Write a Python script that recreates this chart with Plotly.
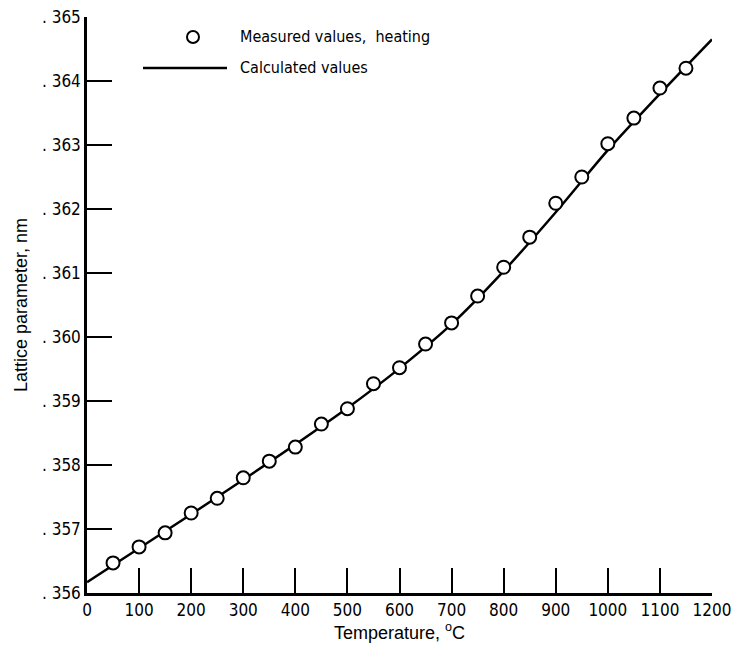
import plotly.graph_objects as go

# Measured values, heating
meas_temp = [50, 100, 150, 200, 250, 300, 350, 400, 450, 500, 550, 600,
             650, 700, 750, 800, 850, 900, 950, 1000, 1050, 1100, 1150]
meas_lat = [0.35647, 0.35672, 0.35694, 0.35725, 0.35748, 0.35780, 0.35806,
            0.35828, 0.35864, 0.35888, 0.35927, 0.35952, 0.35989, 0.36022,
            0.36064, 0.36109, 0.36156, 0.36209, 0.36250, 0.36302, 0.36342,
            0.36389, 0.36420]

# Calculated values
calc_temp = [0, 100, 200, 300, 400, 500, 600, 700, 800, 900, 1000, 1100, 1200]
calc_lat = [0.35617, 0.35670, 0.35723, 0.35777, 0.35832, 0.35889, 0.35951,
            0.36020, 0.36103, 0.36195, 0.36292, 0.36380, 0.36465]

x_ticks = [0, 100, 200, 300, 400, 500, 600, 700, 800, 900, 1000, 1100, 1200]
y_ticks = [0.356, 0.357, 0.358, 0.359, 0.360, 0.361, 0.362, 0.363, 0.364, 0.365]
y_ticktext = [". 356", ". 357", ". 358", ". 359", ". 360", ". 361", ". 362",
              ". 363", ". 364", ". 365"]

legend_labels = ["Measured values,  heating", "Calculated values"]

NARROW = "DejaVu Sans Condensed, Liberation Sans Narrow, Arial Narrow, sans-serif"
REG = "Liberation Sans, Arial, sans-serif"

fig = go.Figure()
fig.add_trace(go.Scatter(
    x=calc_temp, y=calc_lat, mode="lines",
    line=dict(color="black", width=2.5, shape="spline", smoothing=0.8),
    showlegend=False, cliponaxis=False))
fig.add_trace(go.Scatter(
    x=meas_temp, y=meas_lat, mode="markers",
    marker=dict(symbol="circle", size=13, color="white",
                line=dict(color="black", width=2)),
    showlegend=False, cliponaxis=False))

L, R, T, B = 87, 26, 17, 57
W, H = 738, 650
pw, ph = W - L - R, H - T - B

def px(xp):
    return (xp - L) / pw

def py(yp):
    return (H - B - yp) / ph

# legend glyphs
fig.add_shape(type="circle", xref="paper", yref="paper",
              x0=px(193 - 6), x1=px(193 + 6), y0=py(37 + 6), y1=py(37 - 6),
              line=dict(color="black", width=2), fillcolor="white")
fig.add_shape(type="line", xref="paper", yref="paper",
              x0=px(143), x1=px(227), y0=py(68), y1=py(68),
              line=dict(color="black", width=2.5))
fig.add_annotation(xref="paper", yref="paper", x=px(238), y=py(37),
                   xanchor="left", yanchor="middle", showarrow=False,
                   text=legend_labels[0], font=dict(family=NARROW, size=16, color="black"))
fig.add_annotation(xref="paper", yref="paper", x=px(238), y=py(68),
                   xanchor="left", yanchor="middle", showarrow=False,
                   text=legend_labels[1], font=dict(family=NARROW, size=16, color="black"))

fig.update_layout(
    width=W, height=H,
    margin=dict(l=L, r=R, t=T, b=B, pad=0),
    paper_bgcolor="white", plot_bgcolor="white",
    showlegend=False,
    xaxis=dict(
        range=[0, 1200], tickmode="array", tickvals=x_ticks,
        ticktext=[str(v) for v in x_ticks], automargin=False,
        ticks="inside", ticklen=25, tickwidth=2, tickcolor="black",
        showline=True, linecolor="black", linewidth=2.5, mirror=False,
        showgrid=False, zeroline=False,
        tickfont=dict(family=NARROW, size=17, color="black"),
        title=dict(text="Temperature, <sup>o</sup>C",
                   font=dict(family=REG, size=18, color="black"), standoff=4),
    ),
    yaxis=dict(
        range=[0.356, 0.365], tickmode="array", tickvals=y_ticks,
        ticktext=y_ticktext, automargin=False,
        ticks="inside", ticklen=25, tickwidth=2, tickcolor="black",
        showline=True, linecolor="black", linewidth=2.5, mirror=False,
        showgrid=False, zeroline=False,
        tickfont=dict(family=NARROW, size=17, color="black"),
        title=dict(text="Lattice parameter, nm",
                   font=dict(family=REG, size=18, color="black"), standoff=10),
    ),
)

fig.write_html("out.html",
               config={"displayModeBar": False},
               post_script="document.body.style.margin='0';document.body.style.padding='0';")
